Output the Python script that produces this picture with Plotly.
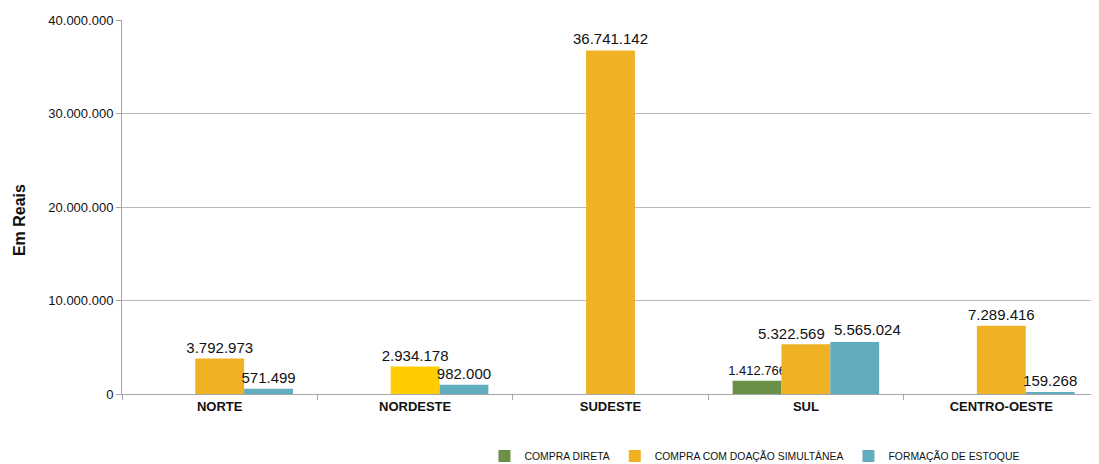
import plotly.graph_objects as go

regions = ["NORTE", "NORDESTE", "SUDESTE", "SUL", "CENTRO-OESTE"]
compra_direta = [None, None, None, 1412766, None]
compra_doacao = [3792973, 2934178, 36741142, 5322569, 7289416]
formacao_estoque = [571499, 982000, None, 5565024, 159268]

series_names = ["COMPRA DIRETA", "COMPRA COM DOAÇÃO SIMULTÂNEA", "FORMAÇÃO DE ESTOQUE"]
green = "#6a8f47"
orange = "#efb225"
yellow = "#ffcc00"
teal = "#62acc0"

font_fam = "Liberation Sans, Arial, sans-serif"

# SUL labels of the two tall bars are nudged apart (as in the reference) via annotations
crowded = "SUL"
txtpos_doacao = ["none" if r == crowded else "outside" for r in regions]
txtpos_estoque = ["none" if r == crowded else "outside" for r in regions]

fig = go.Figure()
fig.add_trace(go.Bar(
    name=series_names[0], x=regions, y=compra_direta,
    marker=dict(color=green, line=dict(width=0)),
    texttemplate="%{y:,.0f}", textposition="outside", constraintext="none",
    textfont=dict(size=13, color="#111111", family=font_fam),
    cliponaxis=False,
))
fig.add_trace(go.Bar(
    name=series_names[1], x=regions, y=compra_doacao,
    marker=dict(color=[yellow if r == "NORDESTE" else orange for r in regions], line=dict(width=0)),
    texttemplate="%{y:,.0f}", textposition=txtpos_doacao, constraintext="none",
    textfont=dict(size=15, color="#111111", family=font_fam),
    cliponaxis=False,
))
fig.add_trace(go.Bar(
    name=series_names[2], x=regions, y=formacao_estoque,
    marker=dict(color=teal, line=dict(width=0)),
    texttemplate="%{y:,.0f}", textposition=txtpos_estoque, constraintext="none",
    textfont=dict(size=15, color="#111111", family=font_fam),
    cliponaxis=False,
))

i = regions.index(crowded)
for val, xs, ys in [(compra_doacao[i], -14, 0), (formacao_estoque[i], 62, 2)]:
    fig.add_annotation(
        x=crowded, y=val, xref="x", yref="y",
        text=f"{val:,}".replace(",", "."),
        showarrow=False, xshift=xs, yanchor="bottom", yshift=ys,
        font=dict(size=15, color="#111111", family=font_fam),
    )

# y-axis title
fig.add_annotation(
    xref="paper", yref="paper", x=-0.1054, y=0.465,
    text="<b>Em Reais</b>", textangle=-90, showarrow=False,
    xanchor="center", yanchor="middle",
    font=dict(size=16, color="#111111", family=font_fam),
)

fig.update_layout(
    width=1091, height=456,
    margin=dict(l=114, r=0, t=12, b=70, autoexpand=False),
    paper_bgcolor="white", plot_bgcolor="white",
    separators=",.",
    barmode="group", bargap=0.25, bargroupgap=0,
    font=dict(family=font_fam, color="#111111"),
    showlegend=True,
    legend=dict(
        orientation="h", x=0.371, xanchor="left",
        yref="container", y=0.0175, yanchor="middle",
        font=dict(family=font_fam, size=10.4, color="#111111"),
        bgcolor="rgba(0,0,0,0)",
    ),
)
fig.update_xaxes(
    automargin=False,
    showline=True, linecolor="#a6a6a6", linewidth=1,
    ticks="outside", tickson="boundaries", ticklen=5, tickcolor="#a6a6a6",
    tickfont=dict(size=13, family=font_fam, color="#111111", weight="bold"),
    showgrid=False,
)
fig.update_yaxes(
    automargin=False,
    range=[0, 40000000], dtick=10000000, tickformat=",d",
    showline=True, linecolor="#a6a6a6", linewidth=1,
    ticks="outside", ticklen=5, tickcolor="#a6a6a6",
    showgrid=True, gridcolor="#b8b8b8", gridwidth=1,
    zeroline=False,
    tickfont=dict(size=13, color="#111111"),
)

fig.write_html("out.html")
